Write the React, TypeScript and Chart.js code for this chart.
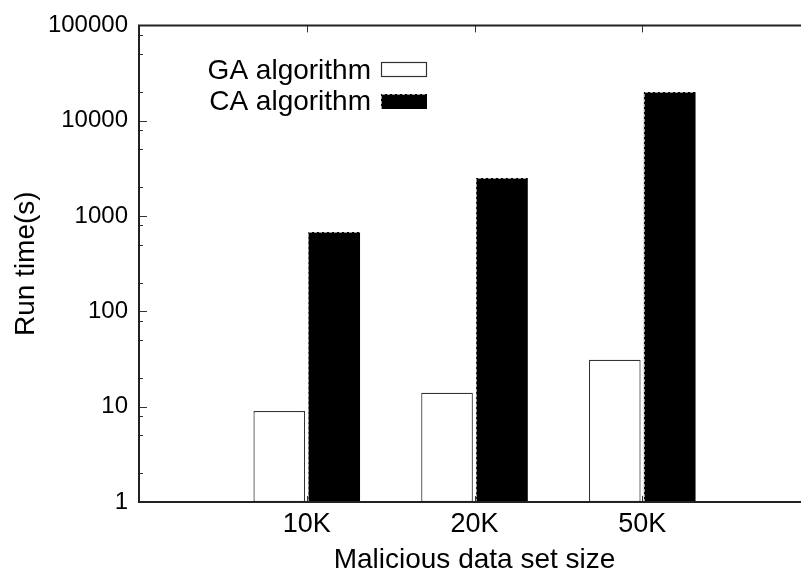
import React, { useEffect, useRef } from 'react';
import { Chart, registerables } from 'chart.js';

Chart.register(...registerables);

const categories = ['10K', '20K', '50K'];
const gaValues = [9, 14, 31];
const caValues = [680, 2500, 20000];
const seriesNames = ['GA algorithm', 'CA algorithm'];
const yTickValues = [1, 10, 100, 1000, 10000, 100000];
const yMinorFactors = [2, 5, 8];
const xTitle = 'Malicious data set size';
const yTitle = 'Run time(s)';

const FONT = "'Liberation Sans', Arial, Helvetica, sans-serif";
const CANVAS_W = 830;
const CANVAS_H = 580;

export default function App() {
  const ref = useRef<HTMLCanvasElement>(null);

  useEffect(() => {
    const canvas = ref.current;
    if (!canvas) return;
    const labels = ['', ...categories, ''];
    const pad = (arr: number[]) => [null, ...arr, null];

    const line = (ctx: CanvasRenderingContext2D, x1: number, y1: number, x2: number, y2: number) => {
      ctx.beginPath();
      ctx.moveTo(x1, y1);
      ctx.lineTo(x2, y2);
      ctx.stroke();
    };

    const framePlugin = {
      id: 'gnuFrame',
      afterDatasetsDraw(chart: any) {
        const { ctx, chartArea: a, scales } = chart;
        const xs = scales.x;
        const ys = scales.y;
        ctx.save();

        // dashed outline of CA bars (left and top)
        const meta = chart.getDatasetMeta(1);
        ctx.strokeStyle = '#9a9a9a';
        ctx.lineWidth = 1;
        ctx.setLineDash([3, 2]);
        caValues.forEach((_, i) => {
          const el = meta.data[i + 1];
          if (!el) return;
          const p = el.getProps(['x', 'y', 'base', 'width'], true);
          const l = Math.round(p.x - p.width / 2) + 0.5;
          const t = Math.round(p.y) + 0.5;
          ctx.beginPath();
          ctx.moveTo(l, p.base);
          ctx.lineTo(l, t);
          ctx.lineTo(p.x + p.width / 2, t);
          ctx.stroke();
        });
        ctx.setLineDash([]);

        // tick marks (inward)
        ctx.strokeStyle = '#333';
        ctx.lineWidth = 1;
        for (let i = 1; i <= categories.length; i++) {
          const px = Math.round(xs.getPixelForValue(i)) + 0.5;
          line(ctx, px, a.bottom, px, a.bottom - 6);
          line(ctx, px, a.top, px, a.top + 7);
        }
        yTickValues.forEach((v, idx) => {
          const py = Math.round(ys.getPixelForValue(v)) + 0.5;
          line(ctx, a.left, py, a.left + 8, py);
          if (idx < yTickValues.length - 1) {
            yMinorFactors.forEach((f) => {
              const my = Math.round(ys.getPixelForValue(v * f)) + 0.5;
              line(ctx, a.left, my, a.left + 4, my);
            });
          }
        });

        // frame
        ctx.strokeStyle = '#222';
        ctx.lineWidth = 2;
        ctx.beginPath();
        ctx.moveTo(a.right, a.top);
        ctx.lineTo(a.left, a.top);
        ctx.lineTo(a.left, a.bottom);
        ctx.lineTo(a.right, a.bottom);
        ctx.stroke();

        // legend (text left of sample box)
        ctx.font = `28px ${FONT}`;
        ctx.textAlign = 'right';
        ctx.textBaseline = 'middle';
        const rows = [a.top + 44.5, a.top + 76];
        chart.data.datasets.forEach((ds: any, i: number) => {
          const cy = rows[i];
          ctx.fillStyle = '#000';
          ctx.fillText(ds.label, a.left + 232, cy + 1);
          const bx = a.left + 242;
          const by = Math.round(cy - 7.5);
          ctx.fillStyle = ds.backgroundColor;
          ctx.fillRect(bx, by, 46, 15);
          if (i === 0) {
            ctx.strokeStyle = '#333';
            ctx.lineWidth = 1.2;
            ctx.strokeRect(bx + 0.5, by + 0.5, 45, 14);
          } else {
            ctx.strokeStyle = '#9a9a9a';
            ctx.lineWidth = 1;
            ctx.setLineDash([3, 2]);
            ctx.beginPath();
            ctx.moveTo(bx + 0.5, by + 15);
            ctx.lineTo(bx + 0.5, by + 0.5);
            ctx.lineTo(bx + 46, by + 0.5);
            ctx.stroke();
            ctx.setLineDash([]);
          }
        });

        ctx.restore();
      },
    };

    const chart = new Chart(canvas, {
      type: 'bar',
      data: {
        labels,
        datasets: [
          {
            label: seriesNames[0],
            data: pad(gaValues),
            backgroundColor: '#ffffff',
            borderColor: '#333333',
            borderWidth: 1.2,
            borderSkipped: false,
            categoryPercentage: 0.655,
            barPercentage: 0.94,
          },
          {
            label: seriesNames[1],
            data: pad(caValues),
            backgroundColor: '#000000',
            borderWidth: 0,
            categoryPercentage: 0.655,
            barPercentage: 0.94,
          },
        ],
      },
      options: {
        responsive: false,
        maintainAspectRatio: false,
        animation: false,
        events: [],
        layout: { padding: { top: 23, right: 20, left: 0, bottom: 0 } },
        plugins: {
          legend: { display: false },
          tooltip: { enabled: false },
        },
        scales: {
          x: {
            type: 'category',
            offset: false,
            grid: { display: false, drawTicks: false },
            border: { display: false },
            ticks: {
              color: '#000',
              font: { family: FONT, size: 27 },
              padding: 6,
              autoSkip: false,
              maxRotation: 0,
            },
            title: {
              display: true,
              text: xTitle,
              color: '#000',
              font: { family: FONT, size: 28 },
              padding: { top: 0, bottom: 3 },
            },
            afterFit(s: any) {
              s.height = 78;
            },
          },
          y: {
            type: 'logarithmic',
            min: 1,
            max: 100000,
            grid: { display: false, drawTicks: false },
            border: { display: false },
            afterBuildTicks(s: any) {
              s.ticks = yTickValues.map((v) => ({ value: v }));
            },
            ticks: {
              color: '#000',
              font: { family: FONT, size: 24 },
              padding: 11,
              autoSkip: false,
              callback: (v: any) => String(v),
            },
            title: {
              display: true,
              text: yTitle,
              color: '#000',
              font: { family: FONT, size: 28 },
              padding: { top: 9, bottom: 0 },
            },
            afterFit(s: any) {
              s.width = 139;
            },
          },
        },
      },
      plugins: [framePlugin],
    } as any);

    return () => chart.destroy();
  }, []);

  return (
    <div
      style={{
        position: 'absolute',
        left: 0,
        top: 0,
        width: 801,
        height: 580,
        overflow: 'hidden',
        background: '#fff',
      }}
    >
      <canvas ref={ref} width={CANVAS_W} height={CANVAS_H} style={{ display: 'block' }} />
    </div>
  );
}
